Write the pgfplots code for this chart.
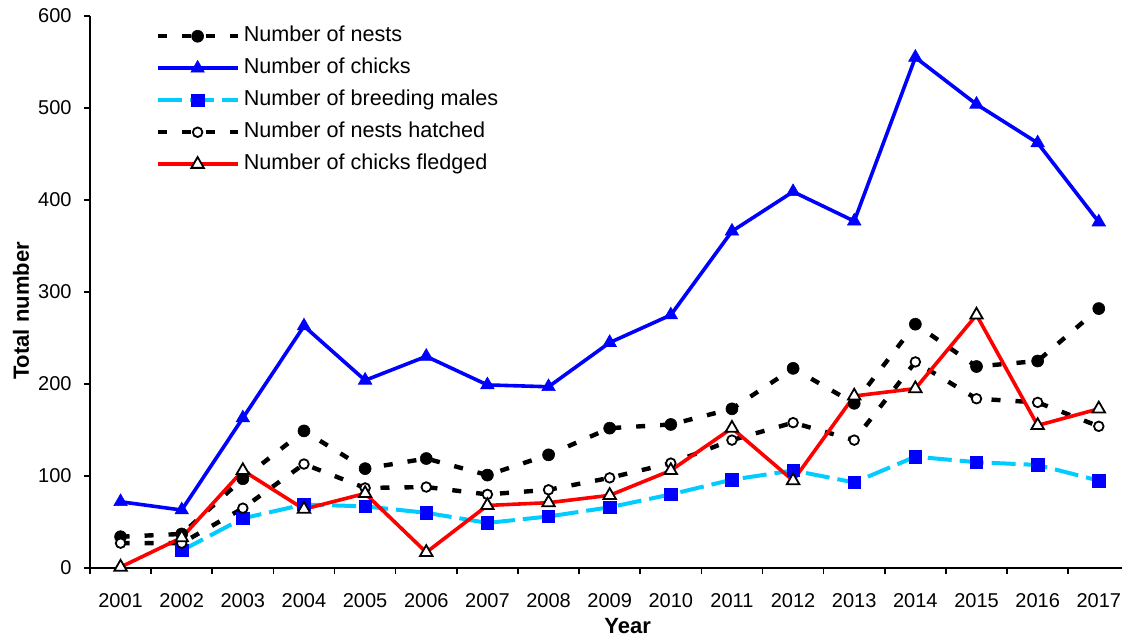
\documentclass[border=0pt]{standalone}
\usepackage{fontspec}
\setmainfont{Liberation Sans}
\usepackage{pgfplots}
\pgfplotsset{compat=1.18}
\definecolor{chickblue}{RGB}{0,0,255}
\definecolor{malecyan}{RGB}{0,204,255}
\definecolor{fledgered}{RGB}{255,0,0}

\begin{document}
\begin{tikzpicture}
\begin{axis}[
  name=ax,
  scale only axis,
  width=516pt, height=276pt,
  xmin=-0.5, xmax=16.38,
  ymin=0, ymax=600,
  clip=false,
  axis lines*=left,
  axis line style={black, line width=1pt},
  tick align=outside,
  major tick length=3pt,
  minor tick length=3pt,
  every tick/.style={black, line width=0.8pt},
  xtick={0,1,...,16},
  xticklabels={2001,2002,2003,2004,2005,2006,2007,2008,2009,2010,2011,2012,2013,2014,2015,2016,2017},
  major x tick style={draw=none},
  minor xtick={-0.5,0.5,...,15.5},
  ytick={0,100,...,600},
  tick label style={font=\fontsize{10}{12}\selectfont},
  /pgf/number format/assume math mode=true,
  xticklabel style={anchor=center, yshift=-13.5pt},
  yticklabel style={anchor=east, inner sep=0pt, xshift=-6pt},
  xlabel={Year},
  ylabel={Total number},
  every axis x label/.style={at={(rel axis cs:0.521,0)}, yshift=-29pt, anchor=center, font=\fontsize{11}{13}\selectfont\bfseries},
  every axis y label/.style={at={(rel axis cs:0,0.4656)}, xshift=-34.5pt, rotate=90, anchor=center, font=\fontsize{11}{13}\selectfont\bfseries},
  legend cell align=left,
  legend style={at={(rel axis cs:0.063,0.993)}, anchor=north west, draw=none, fill=none,
    inner sep=0pt, row sep=0pt, column sep=0pt,
    font=\fontsize{10.8}{12}\selectfont,
    nodes={inner sep=2pt, text height=8.5pt, text depth=3.5pt}},
  legend image code/.code={
    \draw[mark repeat=2,mark phase=2,#1] plot coordinates {(0pt,0pt) (20pt,0pt) (40pt,0pt)};
  },
]
% Number of nests
\addplot[black, line width=2.2pt, dash pattern=on 4.5pt off 7.5pt, mark=*, mark size=3pt,
  mark options={solid, fill=black, line width=0.3pt}] coordinates {
  (0,34) (1,37) (2,97) (3,149) (4,108) (5,119) (6,101) (7,123) (8,152)
  (9,156) (10,173) (11,217) (12,179) (13,265) (14,219) (15,225) (16,282)};
\addlegendentry{Number of nests}
% Number of chicks
\addplot[chickblue, line width=1.8pt, mark=triangle*, mark size=3.9pt,
  mark options={solid, line width=0.3pt}] coordinates {
  (0,72) (1,63) (2,163) (3,263) (4,204) (5,230) (6,199) (7,197) (8,245)
  (9,275) (10,366) (11,409) (12,377) (13,555) (14,504) (15,462) (16,376)};
\addlegendentry{Number of chicks}
% Number of breeding males
\addplot[malecyan, line width=2pt, dash pattern=on 12pt off 4pt, mark=square*, mark size=3.1pt,
  mark options={solid, draw=chickblue, fill=chickblue, line width=0.3pt}] coordinates {
  (1,19) (2,54) (3,69) (4,67) (5,60) (6,49) (7,56) (8,66)
  (9,80) (10,96) (11,106) (12,93) (13,121) (14,115) (15,112) (16,95)};
\addlegendentry{Number of breeding males}
% Number of nests hatched
\addplot[black, line width=2.2pt, dash pattern=on 4.5pt off 7.5pt, mark=*, mark size=2.4pt,
  mark options={solid, draw=black, fill=white, line width=0.9pt}] coordinates {
  (0,27) (1,27) (2,65) (3,113) (4,87) (5,88) (6,80) (7,85) (8,98)
  (9,114) (10,139) (11,158) (12,139) (13,224) (14,184) (15,180) (16,154)};
\addlegendentry{Number of nests hatched}
% Number of chicks fledged
\addplot[fledgered, line width=1.8pt, mark=triangle*, mark size=3.6pt,
  mark options={solid, draw=black, fill=white, line width=0.9pt}] coordinates {
  (0,1) (1,33) (2,106) (3,64) (4,81) (5,17) (6,68) (7,71) (8,79)
  (9,106) (10,152) (11,95) (12,187) (13,195) (14,275) (15,155) (16,173)};
\addlegendentry{Number of chicks fledged}
\end{axis}
\pgfresetboundingbox
\path ([xshift=-45pt,yshift=-34pt]ax.south west) rectangle ([yshift=8pt]ax.north east);
\end{tikzpicture}
\end{document}
